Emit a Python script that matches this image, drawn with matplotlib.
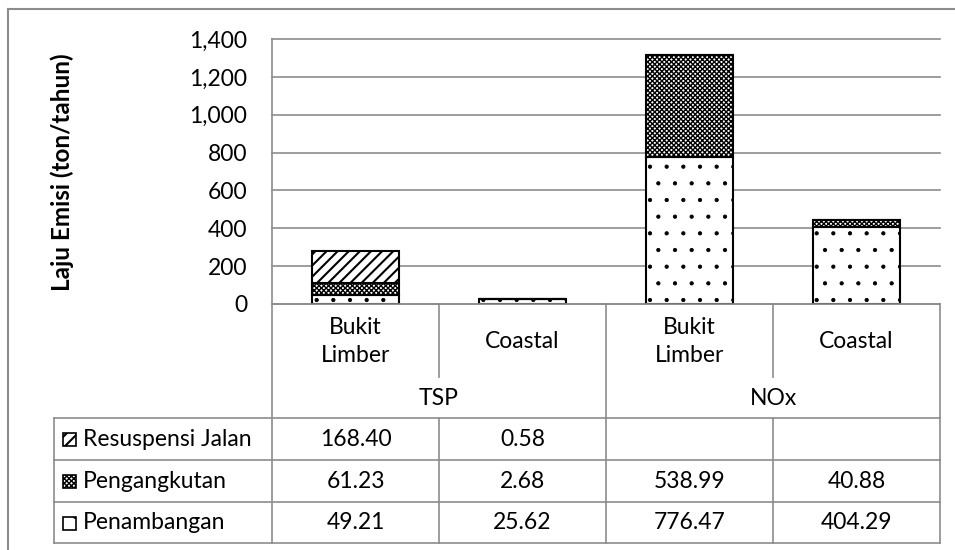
import matplotlib.pyplot as plt
from matplotlib.patches import Rectangle
from matplotlib.lines import Line2D

# data (ton/tahun)
groups = ["TSP", "NOx"]
sites = ["Bukit\nLimber", "Coastal", "Bukit\nLimber", "Coastal"]
series = ["Resuspensi Jalan", "Pengangkutan", "Penambangan"]
resuspensi = [168.40, 0.58, None, None]
pengangkutan = [61.23, 2.68, 538.99, 40.88]
penambangan = [49.21, 25.62, 776.47, 404.29]
yticks = [0, 200, 400, 600, 800, 1000, 1200, 1400]

plt.rcParams['font.family'] = ['Lato', 'DejaVu Sans']
plt.rcParams['hatch.linewidth'] = 1.0

W, H = 955, 550
GRID = '#8c8c8c'
FS = 16.5

def fx(px):
    return px / W

def fy(px):
    return 1 - px / H

fig = plt.figure(figsize=(W / 100, H / 100), dpi=100)

# plot area
ax = fig.add_axes([fx(272), fy(304), fx(940) - fx(272), fy(39) - fy(304)])
x = list(range(len(sites)))
vals = {
    "Penambangan": [v or 0 for v in penambangan],
    "Pengangkutan": [v or 0 for v in pengangkutan],
    "Resuspensi Jalan": [v or 0 for v in resuspensi],
}
hatches = {"Penambangan": '.', "Pengangkutan": 'xxxxxxx', "Resuspensi Jalan": '///'}
hatch_lw = {"Penambangan": 0.6, "Pengangkutan": 1.0, "Resuspensi Jalan": 1.5}
bottom = [0] * len(x)
for name in ["Penambangan", "Pengangkutan", "Resuspensi Jalan"]:
    bars = ax.bar(x, vals[name], width=0.515, bottom=bottom, color='white',
                  edgecolor='black', linewidth=1.5, hatch=hatches[name], zorder=3)
    for b in bars:
        if hasattr(b, 'set_hatch_linewidth'):
            b.set_hatch_linewidth(hatch_lw[name])
    bottom = [b + v for b, v in zip(bottom, vals[name])]

ax.set_xlim(-0.5, len(x) - 0.5)
ax.set_ylim(0, 1400)
ax.set_yticks(yticks)
ax.set_yticklabels([f"{t:,}" for t in yticks], fontsize=FS)
ax.set_xticks([])
ax.tick_params(axis='y', length=0, pad=18)
ax.grid(axis='y', color=GRID, linewidth=1.2, zorder=0)
for s in ['top', 'right', 'bottom']:
    ax.spines[s].set_visible(False)
ax.spines['left'].set_color(GRID)
ax.spines['left'].set_linewidth(1.2)
for gl in ax.get_ygridlines():
    gl.set_clip_on(False)

fig.text(fx(62), fy(172), "Laju Emisi (ton/tahun)", rotation=90, ha='center',
         va='center', fontsize=17.5, fontweight='bold')

# data table below
unit = (940 - 272) / len(x)
xl = -0.5 - (272 - 54) / unit
xr = len(x) - 0.5
top, mid, hbot = 304, 377, 418
rows = [418, 460, 502, 543]
tax = fig.add_axes([fx(54), fy(543), fx(940) - fx(54), fy(304) - fy(543)])
tax.set_xlim(xl, xr)
tax.set_ylim(543, 304)
tax.axis('off')

lk = dict(color=GRID, linewidth=1.2, clip_on=False)
tax.plot([-0.5, xr], [top, top], **lk)
for y in rows:
    tax.plot([xl, xr], [y, y], **lk)
tax.plot([xl, xl], [rows[0], rows[-1]], **lk)
for e in [-0.5, 1.5, 3.5]:
    tax.plot([e, e], [top, rows[-1]], **lk)
for e in [0.5, 2.5]:
    tax.plot([e, e], [top, mid], **lk)
    tax.plot([e, e], [hbot, rows[-1]], **lk)

for i, s in enumerate(sites):
    tax.text(i, (top + mid) / 2 + 1, s, ha='center', va='center', fontsize=FS,
             linespacing=1.45)
for g, gname in enumerate(groups):
    tax.text(2 * g + 0.5, (mid + hbot) / 2 + 1, gname, ha='center', va='center',
             fontsize=FS)

table_vals = {"Resuspensi Jalan": resuspensi, "Pengangkutan": pengangkutan,
              "Penambangan": penambangan}
for r, name in enumerate(series):
    yc = (rows[r] + rows[r + 1]) / 2
    icon = Rectangle((xl + 9 / unit, yc - 6), 13 / unit, 13,
                     facecolor='white', edgecolor='black', linewidth=1.2,
                     hatch=hatches[name], clip_on=False)
    if hasattr(icon, 'set_hatch_linewidth'):
        icon.set_hatch_linewidth(hatch_lw[name])
    tax.add_patch(icon)
    tax.text(xl + 29 / unit, yc, name, ha='left', va='center', fontsize=FS)
    for i, v in enumerate(table_vals[name]):
        if v is not None:
            tax.text(i, yc, f"{v:.2f}", ha='center', va='center', fontsize=FS)

# chart border (only left and top visible)
fig.add_artist(Line2D([fx(8), fx(8)], [fy(9), 0], color=GRID, linewidth=1.5))
fig.add_artist(Line2D([fx(8), 1], [fy(9), fy(9)], color=GRID, linewidth=1.5))

fig.savefig('out.png', dpi=100)
